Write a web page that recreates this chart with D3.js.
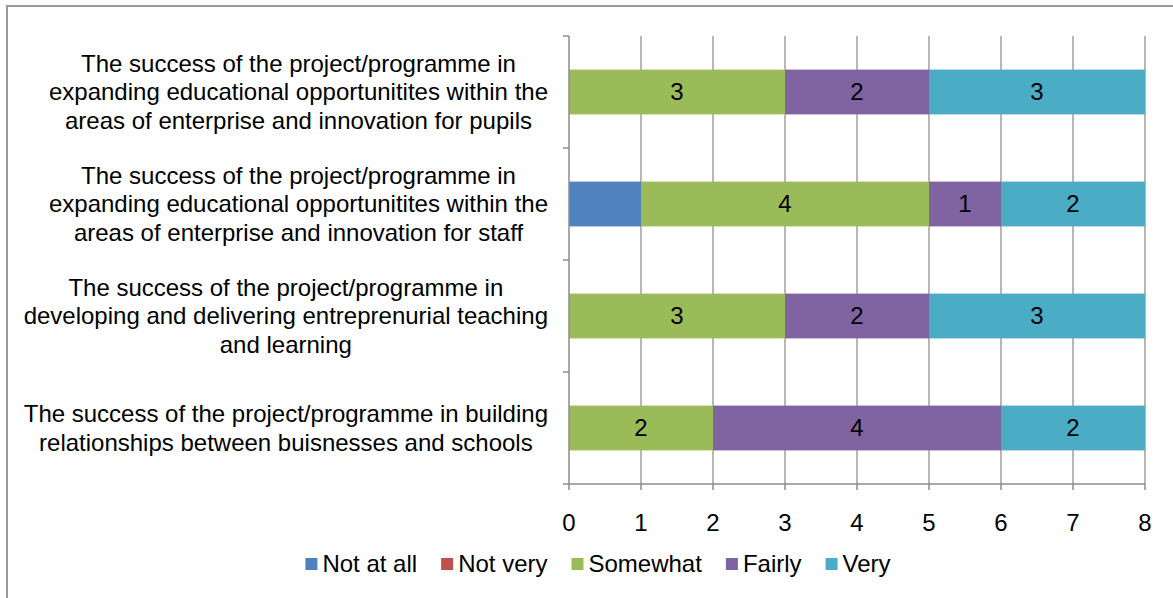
<!DOCTYPE html>
<html>
<head>
<meta charset="utf-8">
<script src="https://cdn.jsdelivr.net/npm/d3@7"></script>
<style>
  body { margin: 0; background: #fff; }
  svg text { font-family: "Liberation Sans", Arial, sans-serif; fill: #000; }
</style>
</head>
<body>
<svg id="chart" width="1173" height="598"></svg>
<script>
// categories, top to bottom (lines split with \n like in the original)
var categories = [
  "The success of the project/programme in\nexpanding educational opportunitites within the\nareas of enterprise and innovation for pupils",
  "The success of the project/programme in\nexpanding educational opportunitites within the\nareas of enterprise and innovation for staff",
  "The success of the project/programme in\ndeveloping and delivering entreprenurial teaching\nand learning",
  "The success of the project/programme in building\nrelationships between buisnesses and schools"
];
var seriesNames = ["Not at all", "Not very", "Somewhat", "Fairly", "Very"];
var notAtAll = [0, 1, 0, 0];
var notVery  = [0, 0, 0, 0];
var somewhat = [3, 4, 3, 2];
var fairly   = [2, 1, 2, 4];
var very     = [3, 2, 3, 2];
var xTicks = [0, 1, 2, 3, 4, 5, 6, 7, 8];

var colors = ["#4F81BD", "#C0504D", "#9BBB59", "#8064A2", "#4BACC6"];
// which series carry data labels in the original
var labelled = [false, false, true, true, true];

var svg = d3.select("#chart");

// outer chart frame (only top and left edges fall inside the picture)
svg.append("rect")
  .attr("x", 7).attr("y", 6)
  .attr("width", 1200).attr("height", 620)
  .attr("fill", "none")
  .attr("stroke", "#9a9a9a")
  .attr("stroke-width", 2);

var plot = {left: 569, right: 1145, top: 36, bottom: 484};

var x = d3.scaleLinear().domain([0, 8]).range([plot.left, plot.right]);
var y = d3.scaleBand()
  .domain(d3.range(categories.length))
  .range([plot.top, plot.bottom])
  .paddingInner(0.6)
  .paddingOuter(0.3);
var step = y.step();

// gridlines
svg.append("g").selectAll("line")
  .data(xTicks.slice(1))
  .enter().append("line")
    .attr("x1", function(d) { return x(d); })
    .attr("x2", function(d) { return x(d); })
    .attr("y1", plot.top).attr("y2", plot.bottom)
    .attr("stroke", "#a0a0a0")
    .attr("stroke-width", 1.5);

// stack the values
var table = categories.map(function(c, i) {
  return {i: i, "Not at all": notAtAll[i], "Not very": notVery[i],
          "Somewhat": somewhat[i], "Fairly": fairly[i], "Very": very[i]};
});
var stacked = d3.stack().keys(seriesNames)(table);

var layers = svg.append("g").selectAll("g")
  .data(stacked)
  .enter().append("g")
    .attr("fill", function(d, k) { return colors[k]; });

layers.selectAll("rect")
  .data(function(d) { return d.filter(function(s) { return s[1] > s[0]; }); })
  .enter().append("rect")
    .attr("x", function(d) { return x(d[0]); })
    .attr("width", function(d) { return x(d[1]) - x(d[0]); })
    .attr("y", function(d) { return y(d.data.i); })
    .attr("height", y.bandwidth());

layers.filter(function(d, k) { return labelled[k]; })
  .selectAll("text")
  .data(function(d) { return d.filter(function(s) { return s[1] > s[0]; }); })
  .enter().append("text")
    .attr("x", function(d) { return (x(d[0]) + x(d[1])) / 2; })
    .attr("y", function(d) { return y(d.data.i) + y.bandwidth() / 2; })
    .attr("dy", "0.35em")
    .attr("text-anchor", "middle")
    .style("font-size", "24px")
    .style("fill", "#000")
    .text(function(d) { return d[1] - d[0]; });

// axes
var axisColor = "#8c8c8c";
svg.append("line")
  .attr("x1", plot.left).attr("x2", plot.left)
  .attr("y1", plot.top).attr("y2", plot.bottom)
  .attr("stroke", axisColor).attr("stroke-width", 1.5);
svg.append("line")
  .attr("x1", plot.left - 6).attr("x2", plot.right)
  .attr("y1", plot.bottom).attr("y2", plot.bottom)
  .attr("stroke", axisColor).attr("stroke-width", 1.5);

// category tick marks at band edges
svg.append("g").selectAll("line")
  .data(d3.range(categories.length))
  .enter().append("line")
    .attr("x1", plot.left - 6).attr("x2", plot.left)
    .attr("y1", function(i) { return plot.top + i * step; })
    .attr("y2", function(i) { return plot.top + i * step; })
    .attr("stroke", axisColor).attr("stroke-width", 1.5);

// value ticks and labels
var xt = svg.append("g").selectAll("g")
  .data(xTicks)
  .enter().append("g")
    .attr("transform", function(d) { return "translate(" + x(d) + ",0)"; });
xt.append("line")
  .attr("y1", plot.bottom).attr("y2", plot.bottom + 6)
  .attr("stroke", axisColor).attr("stroke-width", 1.5);
xt.append("text")
  .attr("y", 531)
  .attr("text-anchor", "middle")
  .style("font-size", "24px")
  .text(function(d) { return d; });

// category labels, centred as a block that ends near the axis
var lineH = 28.5;
categories.forEach(function(c, i) {
  var lines = c.split("\n");
  var g = svg.append("g");
  var texts = g.selectAll("text")
    .data(lines)
    .enter().append("text")
      .attr("text-anchor", "middle")
      .style("font-size", "24px")
      .attr("y", function(d, j) {
        var mid = y(i) + y.bandwidth() / 2;
        return mid + (j - (lines.length - 1) / 2) * lineH;
      })
      .attr("dy", "0.35em")
      .text(function(d) { return d; });
  var maxW = d3.max(texts.nodes(), function(n) { return n.getComputedTextLength(); });
  texts.attr("x", 548 - maxW / 2);
});

// legend
var legend = svg.append("g");
var cursor = 0;
seriesNames.forEach(function(name, k) {
  var item = legend.append("g").attr("transform", "translate(" + cursor + ",0)");
  item.append("rect")
    .attr("x", 0).attr("y", -6)
    .attr("width", 12).attr("height", 12)
    .attr("fill", colors[k]);
  var t = item.append("text")
    .attr("x", 17).attr("dy", "0.35em")
    .style("font-size", "24px")
    .text(name);
  cursor += 17 + t.node().getComputedTextLength() + 24;
});
var legendW = cursor - 24;
legend.attr("transform", "translate(" + (598 - legendW / 2) + ",564)");
</script>
</body>
</html>
